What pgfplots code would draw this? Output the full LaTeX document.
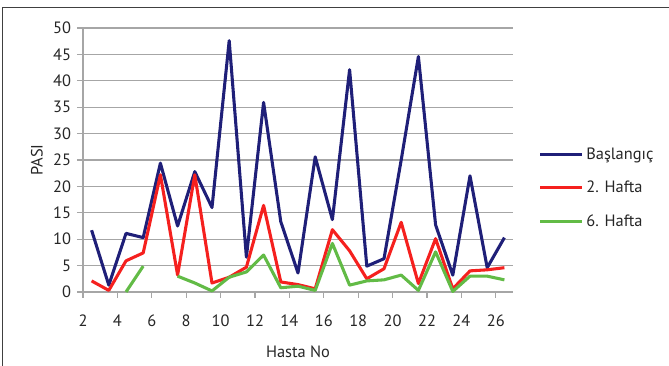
\documentclass[border=0pt]{standalone}
\usepackage{pgfplots}
\pgfplotsset{compat=1.18}
\usepackage{fontspec}
\setmainfont{PT Sans}
\definecolor{cnavy}{HTML}{1F1F78}
\definecolor{cred}{HTML}{F5201E}
\definecolor{cgreen}{HTML}{62BB46}
\definecolor{cgrid}{HTML}{A6A6A6}
\begin{document}
\begin{tikzpicture}[x=0.75pt,y=0.75pt]
\path[use as bounding box] (0,0) rectangle (669,366);
\draw[line width=0.75pt, draw=black!75] (2.5,0) -- (2.5,358.5) -- (669,358.5);
\coordinate (A) at (83,74);
\begin{axis}[
  at={(A)}, anchor=south west,
  scale only axis, width=322.5pt, height=198pt,
  xmin=2, xmax=27, ymin=0, ymax=50,
  xtick={2,4,...,26}, ytick={0,5,...,50},
  axis lines=left, axis line style={-, draw=cgrid, line width=1pt},
  ymajorgrids, grid style={draw=cgrid, line width=1pt},
  tick align=outside, major tick length=4.5pt,
  tick style={draw=cgrid, line width=1pt},
  /pgf/number format/assume math mode=true,
  tick label style={font=\fontsize{12.3}{14}\selectfont, text=black!85},
  yticklabel style={xshift=-1pt},
  xticklabel style={yshift=-9pt},
  xlabel={Hasta No}, ylabel={PASI},
  label style={font=\fontsize{12.3}{14}\selectfont, text=black!85},
  xlabel style={at={(axis description cs:0.5,0)}, anchor=center, yshift=-45pt},
  ylabel style={at={(axis description cs:0,0.5)}, anchor=center, yshift=34.5pt},
  unbounded coords=jump,
  clip=false,
  legend style={draw=none, fill=none, at={(1,0.394)}, anchor=west, xshift=16pt,
    font=\fontsize{12.3}{14}\selectfont, text=black!85, row sep=11pt,
    legend cell align=left},
  legend image code/.code={\draw[#1] (0pt,0pt) -- (31.5pt,0pt);},
  every axis plot/.append style={line width=2.3pt, line join=round, mark=none},
]
\addplot[cnavy] coordinates {
(2.5,11.7) (3.5,1.3) (4.5,11.1) (5.5,10.3) (6.5,24.4) (7.5,12.5) (8.5,22.8)
(9.5,16.0) (10.5,47.6) (11.5,6.6) (12.5,35.9) (13.5,13.3) (14.5,3.6) (15.5,25.6)
(16.5,13.7) (17.5,42.1) (18.5,4.9) (19.5,6.3) (20.5,25.0) (21.5,44.6) (22.5,12.7)
(23.5,3.2) (24.5,22.0) (25.5,4.6) (26.5,10.3)};
\addlegendentry{Başlangıç}
\addplot[cred] coordinates {
(2.5,2.1) (3.5,0.3) (4.5,5.9) (5.5,7.4) (6.5,22.2) (7.5,3.2) (8.5,22.2)
(9.5,1.7) (10.5,2.8) (11.5,4.7) (12.5,16.4) (13.5,1.9) (14.5,1.4) (15.5,0.6)
(16.5,11.8) (17.5,7.8) (18.5,2.5) (19.5,4.4) (20.5,13.2) (21.5,1.6) (22.5,10.1)
(23.5,0.6) (24.5,4.0) (25.5,4.2) (26.5,4.6)};
\addlegendentry{2. Hafta}
\addplot[cgreen] coordinates {
(2.5,nan) (3.5,nan) (4.5,0.0) (5.5,4.9) (6.5,nan) (7.5,3.0) (8.5,1.7)
(9.5,0.2) (10.5,2.8) (11.5,3.8) (12.5,7.0) (13.5,0.8) (14.5,1.1) (15.5,0.3)
(16.5,9.2) (17.5,1.3) (18.5,2.1) (19.5,2.3) (20.5,3.2) (21.5,0.3) (22.5,7.6)
(23.5,0.1) (24.5,3.0) (25.5,3.0) (26.5,2.3)};
\addlegendentry{6. Hafta}
\end{axis}
\end{tikzpicture}
\end{document}
